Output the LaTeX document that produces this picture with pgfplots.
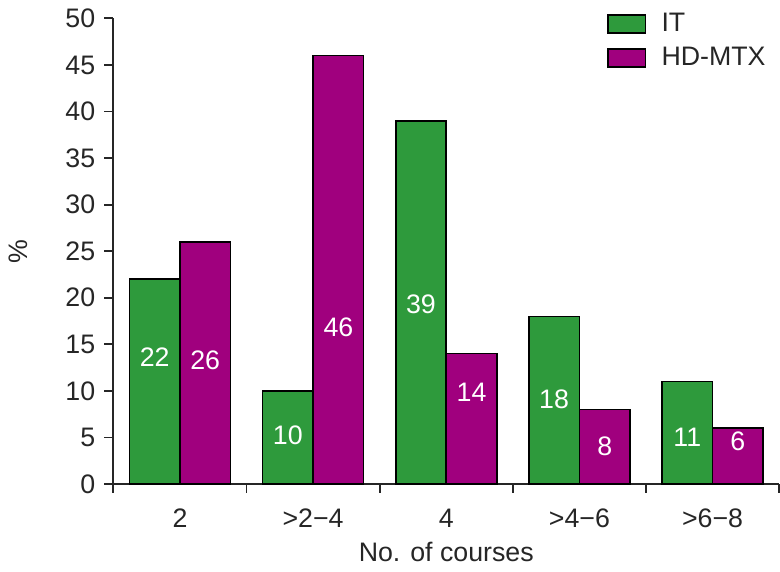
\documentclass[border=0pt]{standalone}
\usepackage{fontspec}
\setmainfont{Liberation Sans}
\usepackage{pgfplots}
\pgfplotsset{compat=1.18}
\definecolor{itgreen}{HTML}{2E9A3C}
\definecolor{hdmag}{HTML}{A0007E}

\begin{document}
\fontsize{13.5bp}{16bp}\selectfont
\begin{tikzpicture}
\begin{axis}[
  scale only axis, width=336bp, height=235bp,
  xmin=-0.5, xmax=4.5, ymin=0, ymax=50,
  ytick={0,5,...,50},
  xtick={0,...,4},
  xticklabels={2,{>2−4},4,{>4−6},{>6−8}},
  minor xtick={-0.5,0.5,...,4.5},
  major x tick style={draw=none},
  tick align=outside,
  major tick length=4.5bp, minor tick length=4.5bp,
  axis x line*=bottom, axis y line*=left,
  axis line style={line width=0.9bp, black!85},
  tick style={line width=0.9bp, black!85},
  /pgf/number format/assume math mode=true,
  tick label style={font=\fontsize{13.5bp}{16bp}\selectfont, text=black!85},
  xticklabel style={yshift=-3.5bp},
  ylabel={\%}, xlabel={No. of courses},
  label style={font=\fontsize{13.5bp}{16bp}\selectfont, text=black!85},
  xlabel style={at={(rel axis cs:0.5,0)}, anchor=center, yshift=-34.5bp},
  ylabel style={at={(rel axis cs:0,0.5)}, anchor=center, yshift=48bp},
  ybar=0pt, bar width=25.5bp,
  legend style={draw=none, fill=none, at={(rel axis cs:0.995,1.03)}, anchor=north east,
    font=\fontsize{13.5bp}{16bp}\selectfont, row sep=2bp, text=black!85},
  legend cell align=left,
  legend image code/.code={
    \draw[#1,draw=black, line width=0.8bp] (0bp,-4.5bp) rectangle (19bp,4.5bp);
    \path[draw=none, fill=none] (0bp,0bp) -- (25bp,0bp);},
]
\addplot[fill=itgreen, draw=black, line width=0.8bp] coordinates {(0,22) (1,10) (2,39) (3,18) (4,11)};
\addplot[fill=hdmag, draw=black, line width=0.8bp] coordinates {(0,26) (1,46) (2,14) (3,8) (4,6)};
\legend{IT, HD-MTX}
\begin{scope}[every node/.style={text=white, font=\fontsize{13.5bp}{16bp}\selectfont}]
\node at (axis cs:-0.19,13.6) {22};
\node at (axis cs:0.19,13.3) {26};
\node at (axis cs:0.81,5.2) {10};
\node at (axis cs:1.19,16.8) {46};
\node at (axis cs:1.81,19.3) {39};
\node at (axis cs:2.19,9.9) {14};
\node at (axis cs:2.81,9.1) {18};
\node at (axis cs:3.19,4.1) {8};
\node at (axis cs:3.81,5.0) {11};
\node at (axis cs:4.19,4.6) {6};
\end{scope}
\end{axis}
\end{tikzpicture}
\end{document}
